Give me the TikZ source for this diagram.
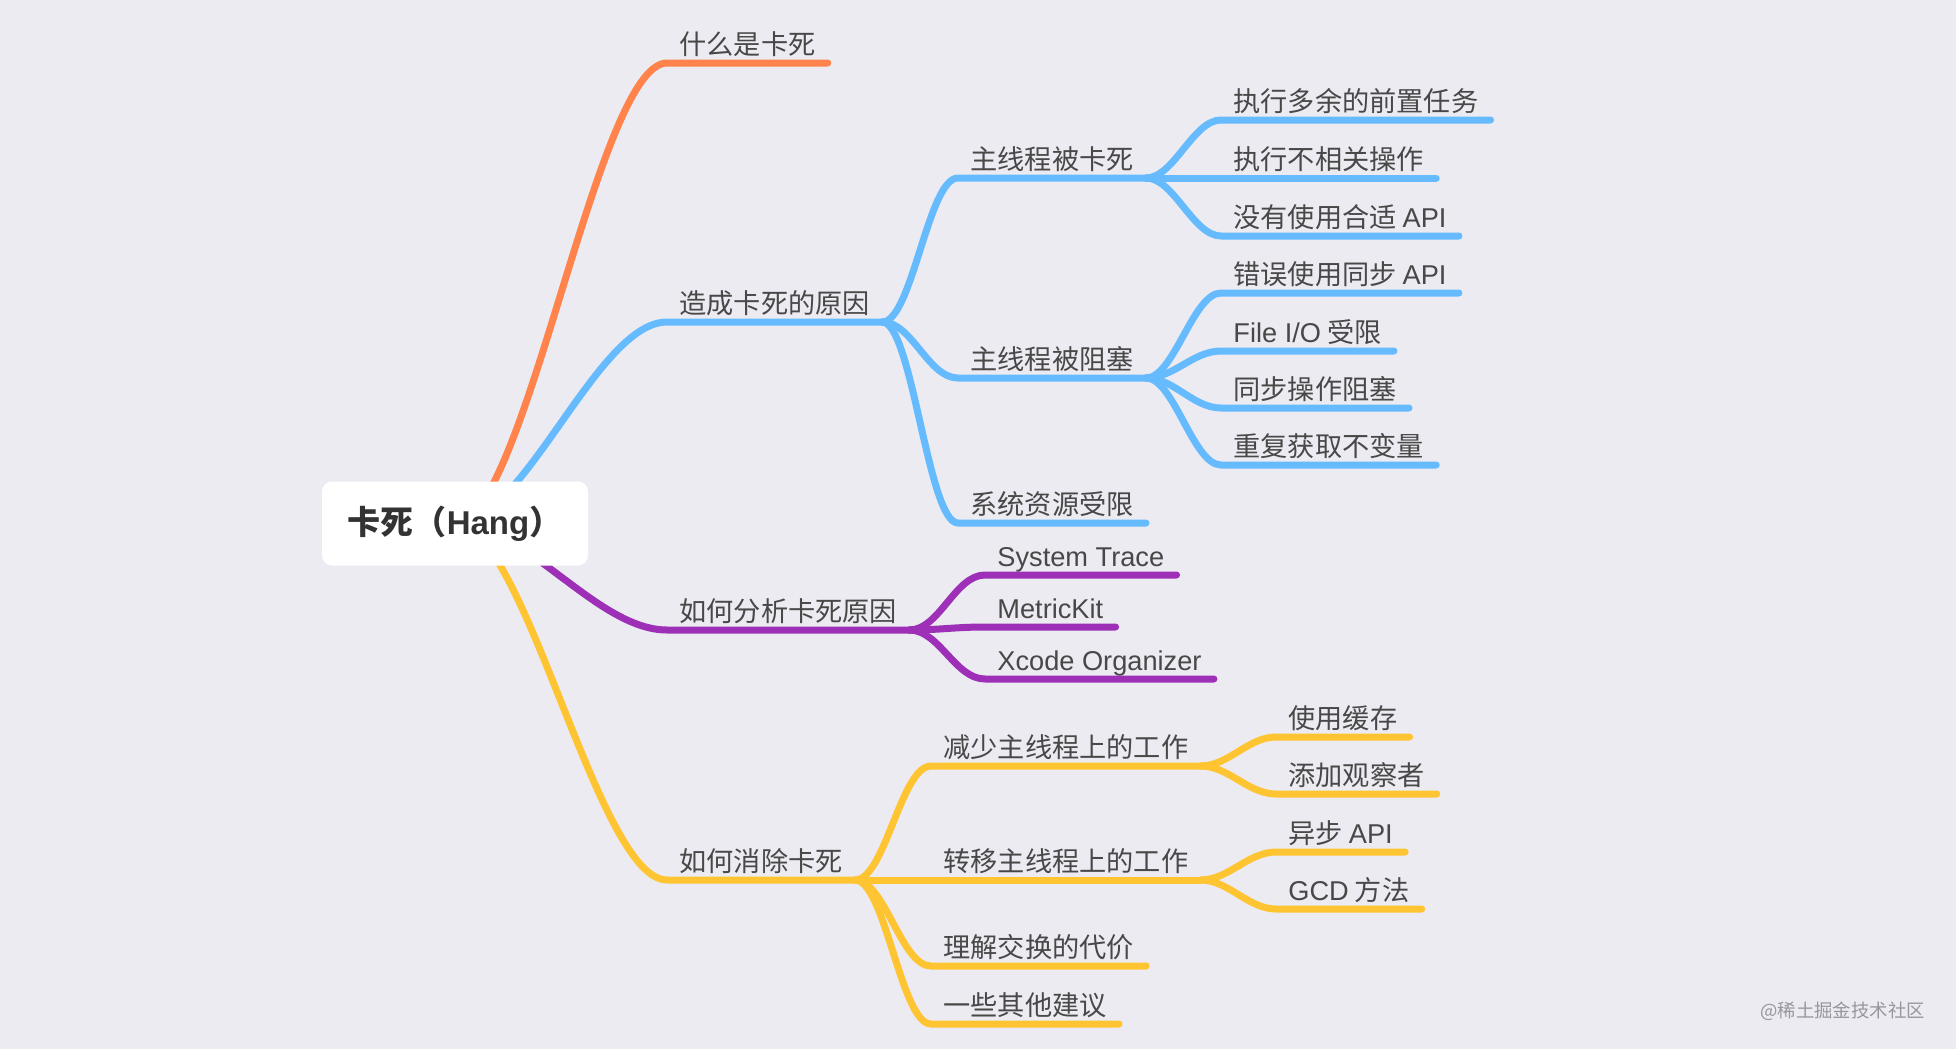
\documentclass[tikz,border=0pt]{standalone}
\usepackage{fontspec}
\setmainfont{Noto Sans CJK SC}
\newfontfamily\lsans{Liberation Sans}
\usepackage{tikz}
\usetikzlibrary{backgrounds}

\definecolor{mapBg}{RGB}{235,235,241}
\definecolor{mapOrange}{RGB}{255,131,74}
\definecolor{mapBlue}{RGB}{102,187,255}
\definecolor{mapPurple}{RGB}{157,48,183}
\definecolor{mapYellow}{RGB}{255,196,50}
\definecolor{mapText}{RGB}{72,72,72}
\definecolor{mapRootText}{RGB}{51,51,51}
\definecolor{mapMark}{RGB}{150,150,156}

\begin{document}
\begin{tikzpicture}[
    x=0.5pt, y=-0.5pt,
    topic/.style={anchor=south west, inner xsep=6pt, inner ysep=0pt,
                  text height=10pt, text depth=4pt, text=mapText,
                  font=\fontsize{13.6}{16}\selectfont},
    root/.style={rectangle, fill=white, rounded corners=5pt,
                 minimum width=133pt, minimum height=42pt, text=mapRootText,
                 font=\fontsize{16.5}{19}\selectfont\bfseries},
    branch/.style={line width=3.5pt, line cap=round},
  ]
    \useasboundingbox (0,0) rectangle (1956,1049);

    % root
    \node[root] (hang) at (455,523.5) {卡死（{\lsans Hang}）};

    % first level
    \node[topic] (what) at (667,63) {什么是卡死};
    \node[topic] (cause) at (667,322) {造成卡死的原因};
    \node[topic] (analyse) at (667,630) {如何分析卡死原因};
    \node[topic] (fix) at (667,880) {如何消除卡死};

    % causes
    \node[topic] (stuck) at (958,178) {主线程被卡死};
    \node[topic] (blocked) at (958,378) {主线程被阻塞};
    \node[topic] (limited) at (958,523) {系统资源受限};

    \node[topic] (extra) at (1221,120) {执行多余的前置任务};
    \node[topic] (unrelated) at (1221,178) {执行不相关操作};
    \node[topic] (noapi) at (1221,236) {没有使用合适 {\lsans API}};
    \node[topic] (syncapi) at (1221,293) {错误使用同步 {\lsans API}};
    \node[topic] (fileio) at (1221,351) {{\lsans File I/O} 受限};
    \node[topic] (syncblock) at (1221,408) {同步操作阻塞};
    \node[topic] (invariant) at (1221,465) {重复获取不变量};

    % analysis tools
    \node[topic] (systrace) at (985,575) {\lsans System Trace};
    \node[topic] (metrickit) at (985,627) {\lsans MetricKit};
    \node[topic] (xcode) at (985,679) {\lsans Xcode Organizer};

    % fixes
    \node[topic] (reduce) at (931,766) {减少主线程上的工作};
    \node[topic] (offload) at (931,880) {转移主线程上的工作};
    \node[topic] (tradeoff) at (931,966) {理解交换的代价};
    \node[topic] (advice) at (931,1024) {一些其他建议};

    \node[topic] (cache) at (1276,737) {使用缓存};
    \node[topic] (observer) at (1276,794) {添加观察者};
    \node[topic] (async) at (1276,852) {异步 {\lsans API}};
    \node[topic] (gcd) at (1276,909) {{\lsans GCD} 方法};

    \node[font=\fontsize{9.2}{10}\selectfont, text=mapMark, anchor=east]
         (mark) at (1932,1011) {@稀土掘金技术社区};

    \begin{scope}[on background layer]
      \fill[mapBg] (0,0) rectangle (1956,1049);

      \foreach \t/\c in {what/mapOrange, cause/mapBlue, analyse/mapPurple, fix/mapYellow}
        \draw[branch, \c] (hang.center) .. controls +(70,0) and +(-70,0)
             .. (\t.south west) -- (\t.south east);

      \foreach \t in {stuck, blocked, limited}
        \draw[branch, mapBlue] (cause.south east) .. controls +(30,0) and +(-30,0)
             .. (\t.south west) -- (\t.south east);
      \foreach \t in {extra, unrelated, noapi}
        \draw[branch, mapBlue] (stuck.south east) .. controls +(28,0) and +(-28,0)
             .. (\t.south west) -- (\t.south east);
      \foreach \t in {syncapi, fileio, syncblock, invariant}
        \draw[branch, mapBlue] (blocked.south east) .. controls +(28,0) and +(-28,0)
             .. (\t.south west) -- (\t.south east);

      \foreach \t in {systrace, metrickit, xcode}
        \draw[branch, mapPurple] (analyse.south east) .. controls +(30,0) and +(-30,0)
             .. (\t.south west) -- (\t.south east);

      \foreach \t in {reduce, offload, tradeoff, advice}
        \draw[branch, mapYellow] (fix.south east) .. controls +(30,0) and +(-30,0)
             .. (\t.south west) -- (\t.south east);
      \foreach \t in {cache, observer}
        \draw[branch, mapYellow] (reduce.south east) .. controls +(28,0) and +(-28,0)
             .. (\t.south west) -- (\t.south east);
      \foreach \t in {async, gcd}
        \draw[branch, mapYellow] (offload.south east) .. controls +(28,0) and +(-28,0)
             .. (\t.south west) -- (\t.south east);
    \end{scope}
  \end{tikzpicture}
\end{document}
